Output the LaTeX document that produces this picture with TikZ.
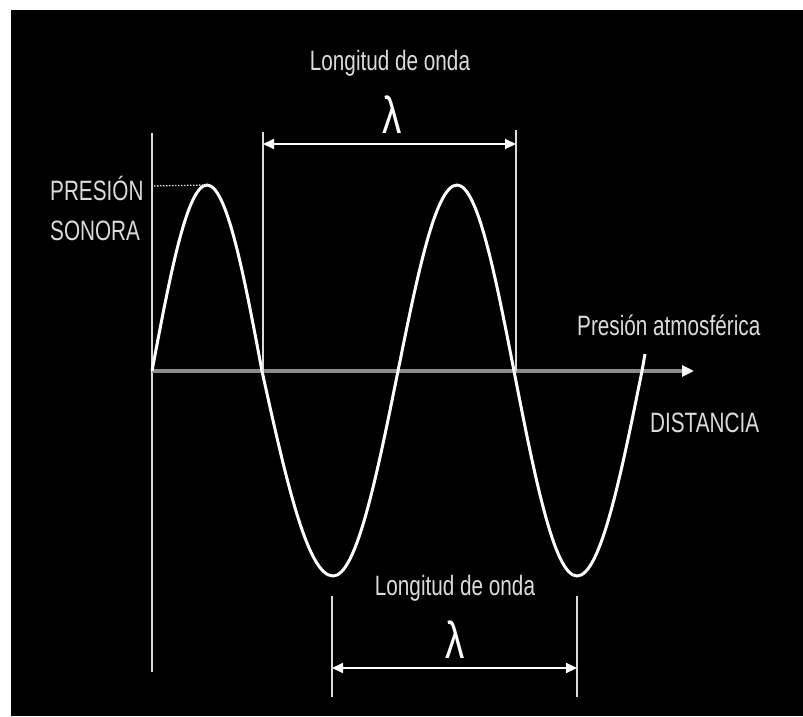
\documentclass[tikz,border=0pt]{standalone}
\usepackage{fontspec}
\setmainfont{Liberation Sans}
\newfontfamily\narrowsans[FakeStretch=0.74]{Liberation Sans}
\usetikzlibrary{arrows.meta,positioning,calc}
\definecolor{labelgray}{gray}{0.86}
\definecolor{axisgray}{gray}{0.55}

\begin{document}
\begin{tikzpicture}[
    x=1pt, y=-1pt,
    label/.style={text=labelgray, inner sep=0pt, align=left, font=\narrowsans\fontsize{28}{40}\selectfont},
    lam/.style={text=white, inner sep=0pt, font=\narrowsans\fontsize{52}{52}\selectfont},
    guide/.style={draw=labelgray, line width=1.6pt},
    dimarr/.style={{Triangle[length=11pt,width=10pt]}-{Triangle[length=11pt,width=10pt]}, draw=white, line width=2pt},
    wave/.style={draw=white, line width=3pt},
    axisarr/.style={-{Triangle[length=12pt,width=11pt,color=white]}, draw=axisgray, line width=4pt}
  ]
    \useasboundingbox (0,0) rectangle (803,716);
    \fill[black] (11,10) rectangle (803,716);

    % axes
    \coordinate (origin) at (152,371);
    \coordinate (axisend) at (694,371);
    \coordinate (ytop) at (152,133);
    \coordinate (ybot) at (152,672);
    \draw[guide] (ytop) -- (ybot);
    \draw[axisarr] (origin) -- (axisend);

    % wave
    \coordinate (peak1) at (207,185);
    \draw[wave] (origin) sin (peak1) cos (262,371) sin (333,576) cos (398,371)
      sin (457,185) cos (514,371) sin (577,576) cos (642,371) -- (645,354);
    \draw[labelgray, line width=1.3pt, dash pattern=on 1.5pt off 1.5pt] ($(peak1)+(-56,1)$) -- (peak1);

    % upper wavelength
    \coordinate (ua) at (263,132);
    \coordinate (ub) at (516,130);
    \draw[guide] (ua) -- (ua |- origin);
    \draw[guide] (ub) -- (ub |- origin);
    \draw[dimarr] (ua |- 0,144) -- (ub |- 0,144);
    \node[lam, anchor=base] (lamtop) at (392,133) {λ};
    \node[label, anchor=base] (lontop) at (390,70) {Longitud de onda};

    % lower wavelength
    \coordinate (la) at (332,596);
    \coordinate (lb) at (577,596);
    \draw[guide] (la) -- ++(0,101);
    \draw[guide] (lb) -- ++(0,101);
    \draw[dimarr] (la |- 0,668) -- (lb |- 0,668);
    \node[lam, anchor=base] (lambot) at (455,658) {λ};
    \node[label, anchor=base] (lonbot) at (455,595) {Longitud de onda};

    % labels
    \node[label, anchor=base west] (presion) at (50,240) {PRESIÓN\\SONORA};
    \node[label, anchor=base west] (atmos) at (577,335) {Presión atmosférica};
    \node[label, anchor=base west] (dist) at (650,432) {DISTANCIA};
  \end{tikzpicture}
\end{document}
